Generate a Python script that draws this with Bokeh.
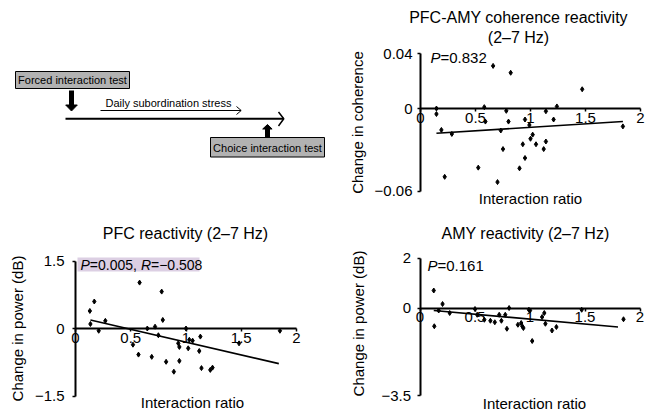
import math
from bokeh.plotting import figure
from bokeh.models import Label, FixedTicker, BoxAnnotation
from bokeh.layouts import column, row
from bokeh.embed import file_html
from bokeh.resources import INLINE
from bokeh.core.properties import value

FONT = "Liberation Sans"

# ---------------- data ----------------
x_ticks = [0, 0.5, 1, 1.5, 2]
x_tick_labels = ["0", "0.5", "1", "1.5", "2"]

coh_x = [0.145, 0.145, 0.19, 0.22, 0.285, 0.525, 0.58, 0.59, 0.66, 0.70, 0.73, 0.75, 0.78, 0.80,
         0.82, 0.90, 0.93, 0.95, 0.95, 0.99, 1.00, 1.02, 1.05, 1.12, 1.14, 1.14, 1.21, 1.24, 1.47, 1.84]
coh_y = [0.0, -0.004, -0.0156, -0.0497, -0.0185, -0.043, 0.001, -0.0095, 0.031, -0.0535, -0.016,
         -0.0295, -0.0017, -0.0095, 0.026, -0.0435, -0.026, -0.036, -0.008, -0.012, -0.022, -0.019,
         -0.026, -0.0295, -0.024, -0.002, -0.008, 0.0015, 0.014, -0.013]
coh_fit_x = [0.145, 1.84]
coh_fit_y = [-0.018, -0.0095]
coh_y_ticks = [-0.06, 0, 0.04]
coh_y_tick_labels = ["\u22120.06", "0", "0.04"]

pfc_x = [0.13, 0.17, 0.135, 0.21, 0.27, 0.52, 0.58, 0.57, 0.69, 0.65, 0.72, 0.78, 0.79, 0.75, 0.82,
         0.89, 0.93, 0.94, 0.94, 1.00, 1.02, 1.03, 1.06, 1.13, 1.12, 1.14, 1.22, 1.24, 1.48, 1.85]
pfc_y = [0.39, 0.60, 0.10, -0.05, 0.17, -0.36, 1.02, -0.58, -0.63, 0.0, 0.04, 0.82, 0.19, -0.15,
         -0.74, -0.96, -0.33, -0.41, -0.72, 0.0, -0.44, -0.25, -0.27, -0.18, -0.50, -0.88, -0.92,
         -0.87, -0.33, -0.05]
pfc_fit_x = [0.135, 1.84]
pfc_fit_y = [0.19, -0.78]
pfc_y_ticks = [-1.5, 0, 1.5]
pfc_y_tick_labels = ["\u22121.5", "0", "1.5"]

amy_x = [0.125, 0.13, 0.17, 0.205, 0.27, 0.50, 0.52, 0.585, 0.64, 0.68, 0.72, 0.74, 0.775, 0.79,
         0.81, 0.89, 0.92, 0.93, 0.94, 0.99, 1.00, 1.02, 1.11, 1.13, 1.14, 1.20, 1.24, 1.47, 1.85]
amy_y = [0.70, -0.73, -0.10, 0.16, -0.20, -0.04, -0.27, -0.47, -0.51, -0.57, -0.27, -0.51, -0.27,
         -0.83, 0.0, -0.67, -0.60, -0.73, -0.80, -0.07, -0.10, -1.32, -0.36, -0.20, -0.63, -0.90,
         -0.76, -0.07, -0.45]
amy_fit_x = [0.125, 1.80]
amy_fit_y = [-0.10, -0.76]
amy_y_ticks = [-3.5, 0, 2]
amy_y_tick_labels = ["\u22123.5", "0", "2"]


# ---------------- helpers ----------------
class Panel:
    """A figure whose frame fills it; data origin at page pixel (x0, y0)."""

    def __init__(self, ox, oy, w, h, x0, y0, sx, sy, yt, ytl, y_std):
        self.x0, self.y0, self.sx, self.sy = x0, y0, sx, sy
        xr = ((ox - x0) / sx, (ox + w - x0) / sx)
        yr = ((y0 - (oy + h)) / sy, (y0 - oy) / sy)
        p = figure(width=w, height=h, x_range=xr, y_range=yr, output_backend="svg",
                   toolbar_location=None, min_border=0)
        p.outline_line_color = None
        p.grid.visible = False
        for ax, ticks, labels, bnds, std in (
                (p.xaxis[0], x_ticks, x_tick_labels, (0, 2), 1),
                (p.yaxis[0], yt, ytl, (min(yt), max(yt)), y_std)):
            ax.fixed_location = 0
            ax.ticker = FixedTicker(ticks=ticks)
            ax.major_label_overrides = dict(zip(ticks, labels))
            ax.bounds = bnds
            ax.minor_tick_line_color = None
            ax.major_tick_in = 0
            ax.major_tick_out = 3
            ax.axis_line_width = 2
            ax.major_tick_line_width = 1.5
            ax.major_label_standoff = std
            ax.major_label_text_font = FONT
            ax.major_label_text_font_size = "15px"
            ax.major_label_text_color = "black"
        self.p = p

    def dx(self, px):
        return (px - self.x0) / self.sx

    def dy(self, py):
        return (self.y0 - py) / self.sy

    def lab(self, px, py, text, size="15px", align="center", style="normal", x_offset=0, angle=0):
        self.p.add_layout(Label(x=self.dx(px), y=self.dy(py), text=text, x_offset=x_offset,
                                angle=angle, text_align=align, text_baseline="middle",
                                text_font=FONT, text_font_size=size, text_font_style=style,
                                text_color="black"))


# ---------------- schematic (page pixel coordinates) ----------------
d = figure(width=328, height=208, x_range=(0, 328), y_range=(208, 0), output_backend="svg",
           toolbar_location=None, min_border=0)
d.axis.visible = False
d.grid.visible = False
d.outline_line_color = None
BOX_FILL = "#b2b2b2"
d.quad(left=[15, 210], right=[129, 324], top=[71, 137], bottom=[88, 156.5],
       fill_color=BOX_FILL, line_color="black", line_width=1)
d.text(x=[72, 267], y=[79.5, 147], text=["Forced interaction test", "Choice interaction test"],
       text_align="center", text_baseline="middle", text_font=value(FONT),
       text_font_size="11px", text_color="black")
d.text(x=[105], y=[102], text=["Daily subordination stress"], text_align="left",
       text_baseline="middle", text_font=value(FONT), text_font_size="11px", text_color="black")
d.segment(x0=[71, 267], y0=[90, 137], x1=[71, 267], y1=[105, 128.5], line_width=5,
          line_color="black", line_cap="butt")
d.patches(xs=[[65.2, 76.8, 71], [262.2, 271.6, 267]], ys=[[104.5, 104.5, 110.5], [128.5, 128.5, 124]],
          fill_color="black", line_color="black", line_width=1)
d.segment(x0=[65], y0=[118.3], x1=[283], y1=[118.3], line_width=2, line_color="black")
d.multi_line(xs=[[278, 283.3, 278]], ys=[[111.5, 118.3, 125.5]], line_width=1.5, line_color="black")
d.segment(x0=[100], y0=[110], x1=[240.5], y1=[110], line_width=1, line_color="black")
d.multi_line(xs=[[236, 240.7, 236]], ys=[[106, 110, 114]], line_width=1, line_color="black")

UP = math.pi / 2

# ---------------- coherence panel ----------------
C = Panel(328, 0, 318, 208, 420, 108, 110, 1375, coh_y_ticks, coh_y_tick_labels, 5)
C.p.line(coh_fit_x, coh_fit_y, line_width=1.6, line_color="black")
C.p.scatter(coh_x, coh_y, marker="diamond", size=5, color="black")
C.lab(518, 17, "PFC-AMY coherence reactivity", "16px")
C.lab(518, 37, "(2\u20137 Hz)", "16px")
C.lab(430, 57, "P", "15px", "left", "italic")
C.lab(430, 57, "=0.832", "15px", "left", x_offset=10)
C.lab(530, 198, "Interaction ratio", "15px")
C.lab(357, 122, "Change in coherence", "15px", angle=UP)

# ---------------- PFC panel ----------------
F = Panel(0, 208, 328, 208, 75, 328, 110.5, 45, pfc_y_ticks, pfc_y_tick_labels, 8)
F.p.add_layout(BoxAnnotation(left=F.dx(77), right=F.dx(199), bottom=F.dy(271), top=F.dy(257),
                             fill_color="#dccfe3", fill_alpha=1, line_color=None, level="underlay"))
F.p.line(pfc_fit_x, pfc_fit_y, line_width=1.6, line_color="black")
F.p.scatter(pfc_x, pfc_y, marker="diamond", size=5, color="black")
F.lab(185, 233, "PFC reactivity (2\u20137 Hz)", "16px")
F.lab(80, 264, "P", "14px", "left", "italic")
F.lab(80, 264, "=0.005, ", "14px", "left", x_offset=9.3)
F.lab(80, 264, "R", "14px", "left", "italic", x_offset=60.5)
F.lab(80, 264, "=\u22120.508", "14px", "left", x_offset=70.5)
F.lab(192, 402, "Interaction ratio", "15px")
F.lab(17, 328, "Change in power (dB)", "15px", angle=UP)

# ---------------- AMY panel ----------------
A = Panel(328, 208, 318, 208, 419.5, 307.5, 110, 25, amy_y_ticks, amy_y_tick_labels, 6)
A.p.line(amy_fit_x, amy_fit_y, line_width=1.6, line_color="black")
A.p.scatter(amy_x, amy_y, marker="diamond", size=5, color="black")
A.lab(525, 233, "AMY reactivity (2\u20137 Hz)", "16px")
A.lab(427, 265, "P", "15px", "left", "italic")
A.lab(427, 265, "=0.161", "15px", "left", x_offset=10)
A.lab(534, 403, "Interaction ratio", "15px")
A.lab(358, 323, "Change in power (dB)", "15px", angle=UP)

layout = column(row(d, C.p), row(F.p, A.p))
open("out.html", "w").write(file_html(layout, INLINE))
